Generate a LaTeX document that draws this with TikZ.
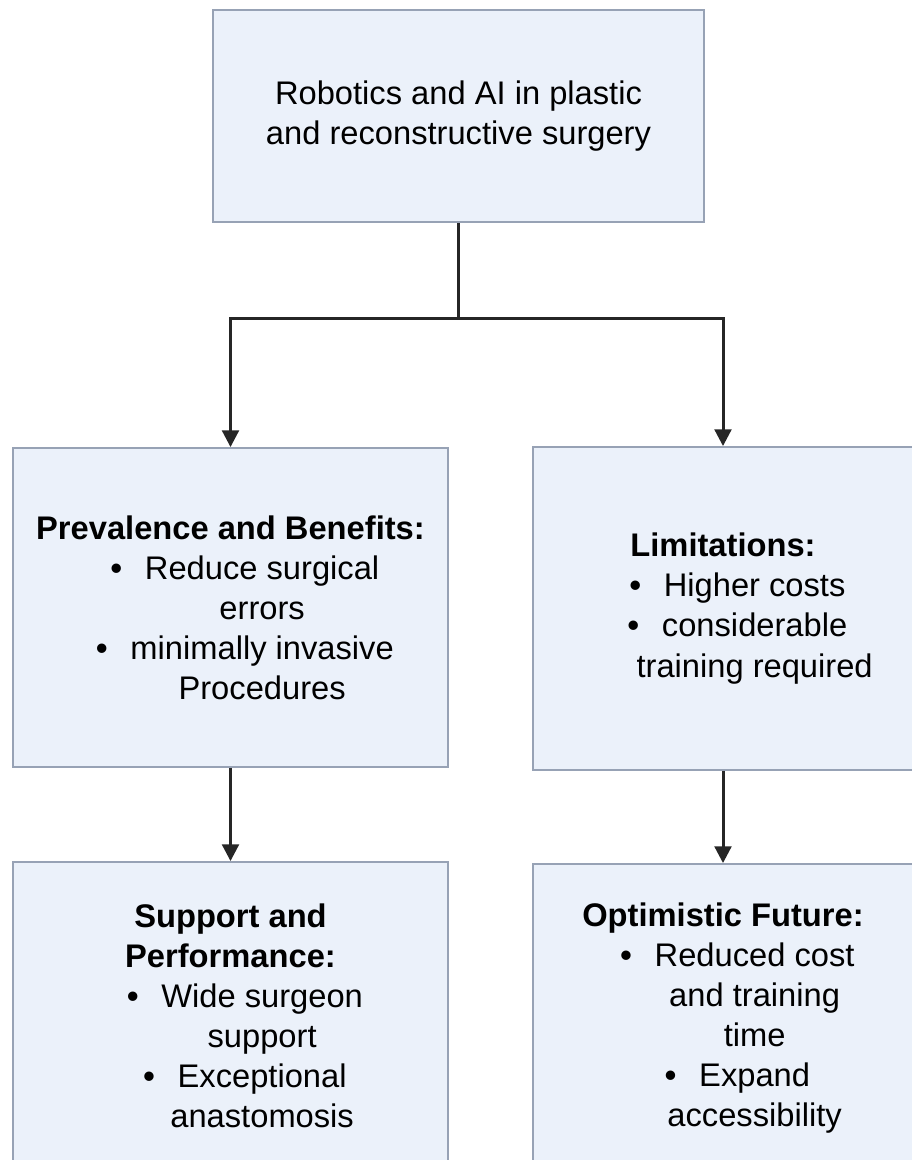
\documentclass[tikz,border=0pt]{standalone}
\usepackage{fontspec}
\setmainfont{Liberation Sans}
\usetikzlibrary{arrows.meta}
\definecolor{boxfill}{HTML}{EBF1FA}
\definecolor{boxline}{HTML}{97A2B5}
\definecolor{arrowline}{HTML}{262626}
\newcommand{\bul}{\hspace*{36pt}\llap{\textbf{\textbullet}\hspace{13pt}}}
\newcommand{\contline}{\hspace*{36pt}}
\tikzset{
  box/.style={draw=boxline, line width=1.1pt, fill=boxfill, align=center,
    font=\fontsize{18.6}{22.8}\selectfont, inner sep=0pt},
  link/.style={draw=arrowline, line width=1.7pt},
  arr/.style={link, -{Triangle[length=9.5pt,width=9.5pt]}}
}
\begin{document}
\begin{tikzpicture}[x=0.02cm, y=-0.02cm]
  \useasboundingbox (0,0) rectangle (912,1160);
  % title box
  \node[box, minimum width=9.82cm, minimum height=4.24cm] (title) at (458.5,116)
    {Robotics and AI in plastic\\and reconstructive surgery};
  % middle row
  \node[box, minimum width=8.7cm, minimum height=6.38cm] (prev) at (230.5,607.5)
    {\textbf{Prevalence and Benefits:}\\
     \bul Reduce surgical\\\contline errors\\
     \bul minimally invasive\\\contline Procedures};
  \node[box, minimum width=7.6cm, minimum height=6.46cm] (limit) at (723,608.5)
    {\textbf{Limitations:}\\
     \bul Higher costs\\
     \bul considerable\\\contline training required};
  % bottom row (runs off the page)
  \node[box, minimum width=8.7cm, minimum height=6.16cm] (supp) at (230.5,1016)
    {\textbf{Support and}\\\textbf{Performance:}\\
     \bul Wide surgeon\\\contline support\\
     \bul Exceptional\\\contline anastomosis};
  \node[box, minimum width=7.6cm, minimum height=6.16cm] (future) at (723,1018)
    {\textbf{Optimistic Future:}\\
     \bul Reduced cost\\\contline and training\\\contline time\\
     \bul Expand\\\contline accessibility};
  % split under the title
  \coordinate (split) at (458.5,318);
  \draw[link] (title.south) -- (split);
  \draw[arr] (split) -| (prev.north);
  \draw[arr] (split) -| (limit.north);
  % down to the bottom row
  \draw[arr] (prev.south) -- (supp.north);
  \draw[arr] (limit.south) -- (future.north);
\end{tikzpicture}
\end{document}
